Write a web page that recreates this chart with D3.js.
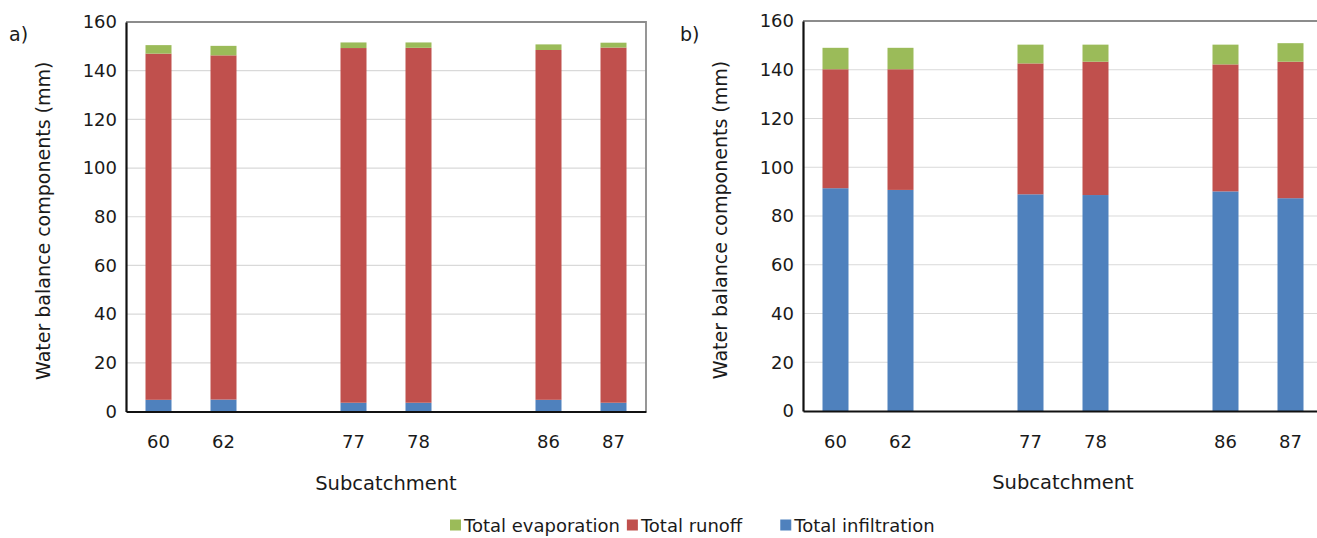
<!DOCTYPE html>
<html>
<head>
<meta charset="utf-8">
<script src="https://cdn.jsdelivr.net/npm/d3@7/dist/d3.min.js"></script>
<style>
  html, body { margin: 0; padding: 0; background: #fff; }
  svg { display: block; }
  text { font-family: "DejaVu Sans", sans-serif; fill: #1a1a1a; }
</style>
</head>
<body>
<svg id="chart" width="1317" height="538"></svg>
<script>
// Subcatchments shown, and the slot layout along the x axis (blank slots leave gaps)
const subcatchments = ["60", "62", "77", "78", "86", "87"];
const slotLabels = ["60", "62", "", "77", "78", "", "86", "87"];
const yTicks = [0, 20, 40, 60, 80, 100, 120, 140, 160];

// Scenario a) water balance components (mm)
const infiltrationA = [4.8, 4.9, 3.6, 3.6, 4.8, 3.6];
const runoffA       = [142.2, 141.4, 145.7, 145.8, 143.7, 145.9];
const evaporationA  = [3.5, 3.9, 2.3, 2.2, 2.3, 2.0];

// Scenario b) water balance components (mm)
const infiltrationB = [91.4, 90.7, 88.9, 88.6, 90.1, 87.3];
const runoffB       = [48.8, 49.5, 53.7, 54.7, 52.1, 56.0];
const evaporationB  = [8.8, 8.8, 7.7, 7.0, 8.1, 7.6];

const seriesKeys = ["infiltration", "runoff", "evaporation"];
const colors = { infiltration: "#4f81bd", runoff: "#c0504d", evaporation: "#9bbb59" };
const legendItems = [
  { key: "evaporation", label: "Total evaporation" },
  { key: "runoff", label: "Total runoff" },
  { key: "infiltration", label: "Total infiltration" }
];

function rows(inf, run, eva) {
  return subcatchments.map((s, i) => ({ sub: s, infiltration: inf[i], runoff: run[i], evaporation: eva[i] }));
}

const svg = d3.select("#chart");

function panel(opts) {
  const { left, top, width, height, data, tag, tagX } = opts;
  const g = svg.append("g").attr("transform", `translate(${left},${top})`);

  const x = d3.scaleBand()
    .domain(d3.range(slotLabels.length))
    .range([0, width])
    .paddingInner(0.6)
    .paddingOuter(0.3);
  const y = d3.scaleLinear().domain([0, 160]).range([height, 0]);

  // horizontal gridlines
  g.append("g").selectAll("line")
    .data(yTicks.filter(t => t > 0 && t < 160))
    .join("line")
    .attr("x1", 0).attr("x2", width)
    .attr("y1", d => y(d)).attr("y2", d => y(d))
    .attr("stroke", "#d9d9d9").attr("stroke-width", 1.2);

  // stacked bars
  const stacked = d3.stack().keys(seriesKeys)(data);
  g.append("g").selectAll("g")
    .data(stacked)
    .join("g")
    .attr("fill", d => colors[d.key])
    .selectAll("rect")
    .data(d => d)
    .join("rect")
    .attr("x", d => x(slotLabels.indexOf(d.data.sub)))
    .attr("width", x.bandwidth())
    .attr("y", d => y(d[1]))
    .attr("height", d => y(d[0]) - y(d[1]));

  // plot-area frame (top and right)
  g.append("path")
    .attr("d", `M0,${y(160)}H${width}V${height}`)
    .attr("fill", "none").attr("stroke", "#8c8c8c").attr("stroke-width", 1.8);

  // y axis
  const yAxis = g.append("g")
    .call(d3.axisLeft(y).tickValues(yTicks).tickSize(0).tickPadding(9));
  yAxis.select(".domain").attr("stroke", "#111").attr("stroke-width", 2.2);
  yAxis.selectAll("text").style("font-size", "18px").attr("font-family", null);

  // x axis
  const xAxis = g.append("g")
    .attr("transform", `translate(0,${height})`)
    .call(d3.axisBottom(x)
      .tickValues(d3.range(slotLabels.length).filter(i => slotLabels[i] !== ""))
      .tickFormat(i => slotLabels[i])
      .tickSize(0).tickPadding(24));
  xAxis.select(".domain").attr("stroke", "#111").attr("stroke-width", 2.2);
  xAxis.selectAll("text").style("font-size", "18px").attr("font-family", null);

  // axis titles
  g.append("text")
    .attr("transform", `translate(${-opts.yTitleOffset},${height / 2 + 4}) rotate(-90)`)
    .attr("text-anchor", "middle")
    .style("font-size", "19px")
    .text("Water balance components (mm)");

  g.append("text")
    .attr("x", width / 2).attr("y", height + 78)
    .attr("text-anchor", "middle")
    .style("font-size", "19.5px")
    .text("Subcatchment");

  // panel tag
  svg.append("text")
    .attr("x", tagX).attr("y", 41)
    .style("font-size", "19px")
    .text(tag);
}

panel({ left: 126, top: 22, width: 520, height: 389.5, data: rows(infiltrationA, runoffA, evaporationA),
        tag: "a)", tagX: 9, yTitleOffset: 76 });
panel({ left: 803, top: 21, width: 520, height: 390, data: rows(infiltrationB, runoffB, evaporationB),
        tag: "b)", tagX: 680, yTitleOffset: 76 });

// legend
const legendGaps = [7, 38, 0];
const legend = svg.append("g").attr("transform", "translate(450,525)");
let lx = 0;
legendItems.forEach((item, i) => {
  const gi = legend.append("g").attr("transform", `translate(${lx},0)`);
  gi.append("rect").attr("x", 0).attr("y", -5.5).attr("width", 11).attr("height", 11)
    .attr("fill", colors[item.key]);
  const t = gi.append("text").attr("x", 14).attr("y", 6.5)
    .style("font-size", "18px").text(item.label);
  lx += 14 + t.node().getComputedTextLength() + legendGaps[i];
});
</script>
</body>
</html>
